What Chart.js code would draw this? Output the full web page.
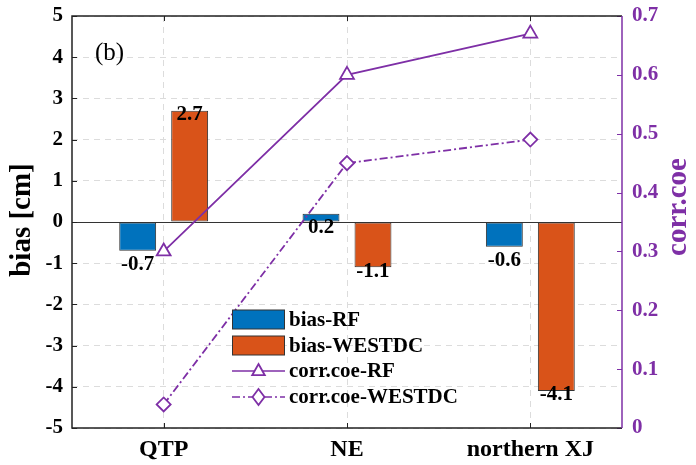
<!DOCTYPE html>
<html>
<head>
<meta charset="utf-8">
<script src="https://cdn.jsdelivr.net/npm/chart.js@4/dist/chart.umd.min.js"></script>
<style>
html,body{margin:0;padding:0;background:#fff}
#wrap{width:696px;height:465px}
</style>
</head>
<body>
<div id="wrap"><canvas id="chart" width="696" height="465"></canvas></div>
<script>
const categories=["QTP","NE","northern XJ"]
const biasRF=[-0.7,0.2,-0.6]
const biasWESTDC=[2.7,-1.1,-4.1]
const corrRF=[0.30,0.60,0.67]
const corrWESTDC=[0.04,0.45,0.49]
const biasTicks=[-5,-4,-3,-2,-1,0,1,2,3,4,5]
const corrTicks=[0,0.1,0.2,0.3,0.4,0.5,0.6,0.7]

const FONT="'Liberation Serif','Times New Roman',serif"
const BLUE="#0072BD"
const ORANGE="#D95319"
const PURPLE="#7E2FA6"
const GRID="#dcdcdc"

// frame, zero line, inner ticks, labels, legend, axis titles
const extras={
id:"extras",
beforeDatasetsDraw(c){
const ctx=c.ctx,a=c.chartArea,y=c.scales.y
ctx.save()
ctx.strokeStyle="#333"
ctx.lineWidth=1
const y0=Math.round(y.getPixelForValue(0))+0.5
ctx.beginPath();ctx.moveTo(a.left,y0);ctx.lineTo(a.right,y0);ctx.stroke()
ctx.restore()
},
afterDatasetsDraw(c){
const ctx=c.ctx,y=c.scales.y
ctx.save()
ctx.font="bold 21px "+FONT
ctx.fillStyle="#000"
ctx.textAlign="center"
ctx.textBaseline="middle"
const sets=[[0,biasRF,14],[1,biasWESTDC,4]]
sets.forEach(s=>{
const meta=c.getDatasetMeta(s[0])
s[1].forEach((v,i)=>{
ctx.fillText(v.toFixed(1),meta.data[i].x,y.getPixelForValue(v)+s[2])
})
})
ctx.restore()
},
afterDraw(c){
const ctx=c.ctx,a=c.chartArea,x=c.scales.x,y=c.scales.y,y2=c.scales.y2
ctx.save()
// inner ticks
ctx.lineWidth=1
ctx.strokeStyle="#222"
biasTicks.forEach(v=>{
const p=Math.round(y.getPixelForValue(v))+0.5
ctx.beginPath();ctx.moveTo(a.left,p);ctx.lineTo(a.left+5,p);ctx.stroke()
})
categories.forEach((k,i)=>{
const p=Math.round(x.getPixelForValue(i))+0.5
ctx.beginPath();ctx.moveTo(p,a.bottom);ctx.lineTo(p,a.bottom-5);ctx.stroke()
ctx.beginPath();ctx.moveTo(p,a.top);ctx.lineTo(p,a.top+5);ctx.stroke()
})
ctx.strokeStyle=PURPLE
corrTicks.forEach(v=>{
const p=Math.round(y2.getPixelForValue(v))+0.5
ctx.beginPath();ctx.moveTo(a.right,p);ctx.lineTo(a.right-5,p);ctx.stroke()
})
// frame
ctx.lineWidth=1.5
ctx.strokeStyle="#222"
ctx.beginPath()
ctx.moveTo(a.right,a.top);ctx.lineTo(a.left,a.top);ctx.lineTo(a.left,a.bottom);ctx.lineTo(a.right,a.bottom)
ctx.stroke()
ctx.strokeStyle=PURPLE
ctx.beginPath();ctx.moveTo(a.right,a.top);ctx.lineTo(a.right,a.bottom);ctx.stroke()
// panel tag
ctx.fillStyle="#000"
ctx.font="25px "+FONT
ctx.textAlign="left"
ctx.textBaseline="middle"
ctx.fillText("(b)",95,53)
// axis titles
ctx.font="bold 29px "+FONT
ctx.textAlign="center"
ctx.save()
ctx.translate(23,220)
ctx.rotate(-Math.PI/2)
ctx.fillText("bias [cm]",0,0)
ctx.restore()
ctx.fillStyle=PURPLE
ctx.save()
ctx.translate(679,207)
ctx.rotate(-Math.PI/2)
ctx.fillText("corr.coe",0,0)
ctx.restore()
// legend
const lx=232,lw=53,tx=289
const items=[
{t:"bias-RF",type:"box",color:BLUE,y:319.5},
{t:"bias-WESTDC",type:"box",color:ORANGE,y:345.5},
{t:"corr.coe-RF",type:"line",style:"triangle",dash:[],y:371},
{t:"corr.coe-WESTDC",type:"line",style:"rectRot",dash:[8,3,2,3],y:397}
]
ctx.font="bold 21px "+FONT
ctx.textAlign="left"
items.forEach(it=>{
if(it.type==="box"){
ctx.fillStyle=it.color
ctx.fillRect(lx,it.y-9.5,lw,19)
ctx.strokeStyle="#333";ctx.lineWidth=1
ctx.strokeRect(lx+0.5,it.y-9.5,lw-1,19)
}else{
ctx.strokeStyle=PURPLE;ctx.lineWidth=1.5
ctx.setLineDash(it.dash)
ctx.beginPath();ctx.moveTo(lx,it.y);ctx.lineTo(lx+lw,it.y);ctx.stroke()
ctx.setLineDash([])
ctx.fillStyle="#fff";ctx.strokeStyle=PURPLE;ctx.lineWidth=1.8
ctx.beginPath()
const cx=lx+lw/2,cy=it.y
if(it.style==="triangle"){
const r=7
ctx.moveTo(cx,cy-r);ctx.lineTo(cx+r*0.9,cy+r*0.6);ctx.lineTo(cx-r*0.9,cy+r*0.6);ctx.closePath()
}else{
const r=8
ctx.moveTo(cx,cy-r);ctx.lineTo(cx+r*0.75,cy);ctx.lineTo(cx,cy+r);ctx.lineTo(cx-r*0.75,cy);ctx.closePath()
}
ctx.fill();ctx.stroke()
}
ctx.fillStyle="#000"
ctx.fillText(it.t,tx,it.y+1)
})
ctx.restore()
}
}

new Chart(document.getElementById("chart"),{
type:"bar",
data:{
labels:categories,
datasets:[
{label:"bias-RF",data:biasRF,backgroundColor:BLUE,borderColor:"#333",borderWidth:1,yAxisID:"y",order:2,categoryPercentage:0.567,barPercentage:0.71,borderSkipped:false},
{label:"bias-WESTDC",data:biasWESTDC,backgroundColor:ORANGE,borderColor:"#333",borderWidth:1,yAxisID:"y",order:2,categoryPercentage:0.567,barPercentage:0.71,borderSkipped:false},
{type:"line",label:"corr.coe-RF",data:corrRF,yAxisID:"y2",order:1,borderColor:PURPLE,borderWidth:1.8,pointStyle:"triangle",pointRadius:8,pointBorderWidth:1.8,pointBackgroundColor:"#fff",pointBorderColor:PURPLE,tension:0},
{type:"line",label:"corr.coe-WESTDC",data:corrWESTDC,yAxisID:"y2",order:1,borderColor:PURPLE,borderWidth:1.8,borderDash:[8,3,2,3],pointStyle:"rectRot",pointRadius:7,pointBorderWidth:1.8,pointBackgroundColor:"#fff",pointBorderColor:PURPLE,tension:0}
]
},
options:{
responsive:false,
animation:false,
layout:{padding:{top:16,left:0,right:0,bottom:0}},
plugins:{legend:{display:false},tooltip:{enabled:false}},
scales:{
x:{
offset:true,
grid:{offset:false,color:GRID,lineWidth:1,drawTicks:false},
border:{display:false,dash:[6,5]},
ticks:{color:"#000",font:{family:FONT,size:24,weight:"bold"},padding:7,maxRotation:0},
afterFit(s){s.height=37;s.paddingLeft=0;s.paddingRight=0}
},
y:{
position:"left",
min:-5,max:5,
grid:{color:GRID,lineWidth:1,drawTicks:false},
border:{display:false,dash:[6,5]},
ticks:{stepSize:1,color:"#000",font:{family:FONT,size:21,weight:"bold"},padding:9},
afterFit(s){s.width=72;s.paddingTop=0;s.paddingBottom=0}
},
y2:{
position:"right",
min:0,max:0.7,
grid:{drawOnChartArea:false,drawTicks:false},
border:{display:false},
ticks:{stepSize:0.1,color:PURPLE,font:{family:FONT,size:21,weight:"bold"},padding:10,
callback:v=>v===0?"0":v.toFixed(1)},
afterFit(s){s.width=74;s.paddingTop=0;s.paddingBottom=0}
}
}
},
plugins:[extras]
})
</script>
</body>
</html>
